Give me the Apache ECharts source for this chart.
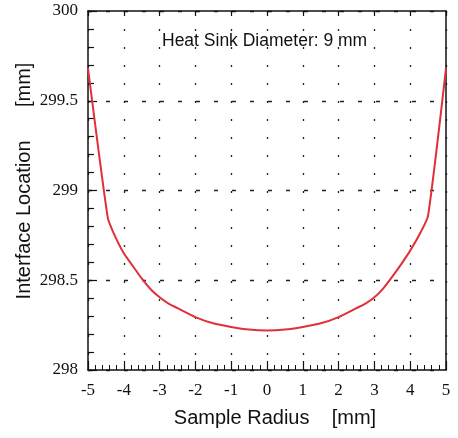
<!DOCTYPE html>
<html>
<head>
<meta charset="utf-8">
<script src="https://cdn.jsdelivr.net/npm/echarts@6/dist/echarts.min.js"></script>
<style>
html,body{margin:0;padding:0;background:#fff;}
#c{width:458px;height:438px;}
</style>
</head>
<body>
<div id="c"></div>
<script>
// Data
const radius = [-5, -4.45, -4.3, -4, -3.75, -3.5, -3.25, -3, -2.75, -2.5, -2, -1.5, -1, -0.5, 0, 0.5, 1, 1.5, 2, 2.5, 2.75, 3, 3.25, 3.5, 3.75, 4, 4.3, 4.5, 5];
const interfaceLoc = [299.68, 298.85, 298.77, 298.65, 298.58, 298.51, 298.45, 298.405, 298.37, 298.345, 298.295, 298.26, 298.24, 298.225, 298.22, 298.225, 298.24, 298.26, 298.295, 298.345, 298.37, 298.405, 298.455, 298.52, 298.59, 298.665, 298.77, 298.86, 299.68];
const titleText = 'Heat Sink Diameter: 9 mm';
const xTitle = 'Sample Radius    [mm]';
const yTitle = 'Interface Location      [mm]';

const chart = echarts.init(document.getElementById('c'), null, {renderer: 'canvas'});
const serif = '"Liberation Serif", "DejaVu Serif", serif';
const sans = '"Liberation Sans", Arial, sans-serif';
const ink = '#111';

chart.setOption({
  animation: false,
  backgroundColor: '#fff',
  grid: {left: 88, top: 11, right: 12, bottom: 68},
  xAxis: [{
    type: 'value', min: -5, max: 5, interval: 1, position: 'bottom',
    axisLine: {show: true, onZero: false, lineStyle: {color: ink, width: 1.5}},
    axisTick: {show: true, inside: true, length: 9, lineStyle: {color: ink, width: 1.2}},
    minorTick: {show: true, splitNumber: 5, length: 5, lineStyle: {color: ink, width: 1}},
    axisLabel: {color: ink, fontFamily: serif, fontSize: 17, margin: 12},
    splitLine: {show: true, lineStyle: {color: '#222', width: 1.3, type: [2, 16]}}
  }, {
    type: 'value', min: -5, max: 5, interval: 1, position: 'top',
    axisLine: {show: true, onZero: false, lineStyle: {color: ink, width: 1.5}},
    axisTick: {show: true, inside: true, length: 5, lineStyle: {color: ink, width: 1.2}},
    axisLabel: {show: false}, splitLine: {show: false}
  }],
  yAxis: [{
    type: 'value', min: 298, max: 300, interval: 0.5, position: 'left',
    axisLine: {show: true, onZero: false, lineStyle: {color: ink, width: 1.5}},
    axisTick: {show: true, inside: true, length: 9, lineStyle: {color: ink, width: 1.2}},
    minorTick: {show: true, splitNumber: 5, length: 6, lineStyle: {color: ink, width: 1.2}},
    axisLabel: {color: ink, fontFamily: serif, fontSize: 17, margin: 10,
      formatter: v => (Math.abs(v - Math.round(v)) < 1e-9 ? String(Math.round(v)) : v.toFixed(1))},
    splitLine: {show: true, lineStyle: {color: '#222', width: 1.3, type: [4, 14]}}
  }, {
    type: 'value', min: 298, max: 300, interval: 0.5, position: 'right',
    axisLine: {show: true, onZero: false, lineStyle: {color: ink, width: 1.5}},
    axisTick: {show: false}, axisLabel: {show: false}, splitLine: {show: false}
  }],
  series: [{
    type: 'line', xAxisIndex: 0, yAxisIndex: 0,
    data: radius.map((r, i) => [r, interfaceLoc[i]]),
    showSymbol: false, smooth: 0.2,
    lineStyle: {color: '#e0303a', width: 2}
  }],
  graphic: [
    {type: 'text', left: 162, top: 32, style: {text: titleText, font: '17.5px ' + sans, fill: ink}},
    {type: 'text', x: 275, y: 418, style: {text: xTitle, font: '20px ' + sans, fill: ink, textAlign: 'center', textVerticalAlign: 'middle'}},
    {type: 'text', x: 24, y: 181, rotation: Math.PI / 2, style: {text: yTitle, font: '20px ' + sans, fill: ink, textAlign: 'center', textVerticalAlign: 'middle'}}
  ]
});
</script>
</body>
</html>
